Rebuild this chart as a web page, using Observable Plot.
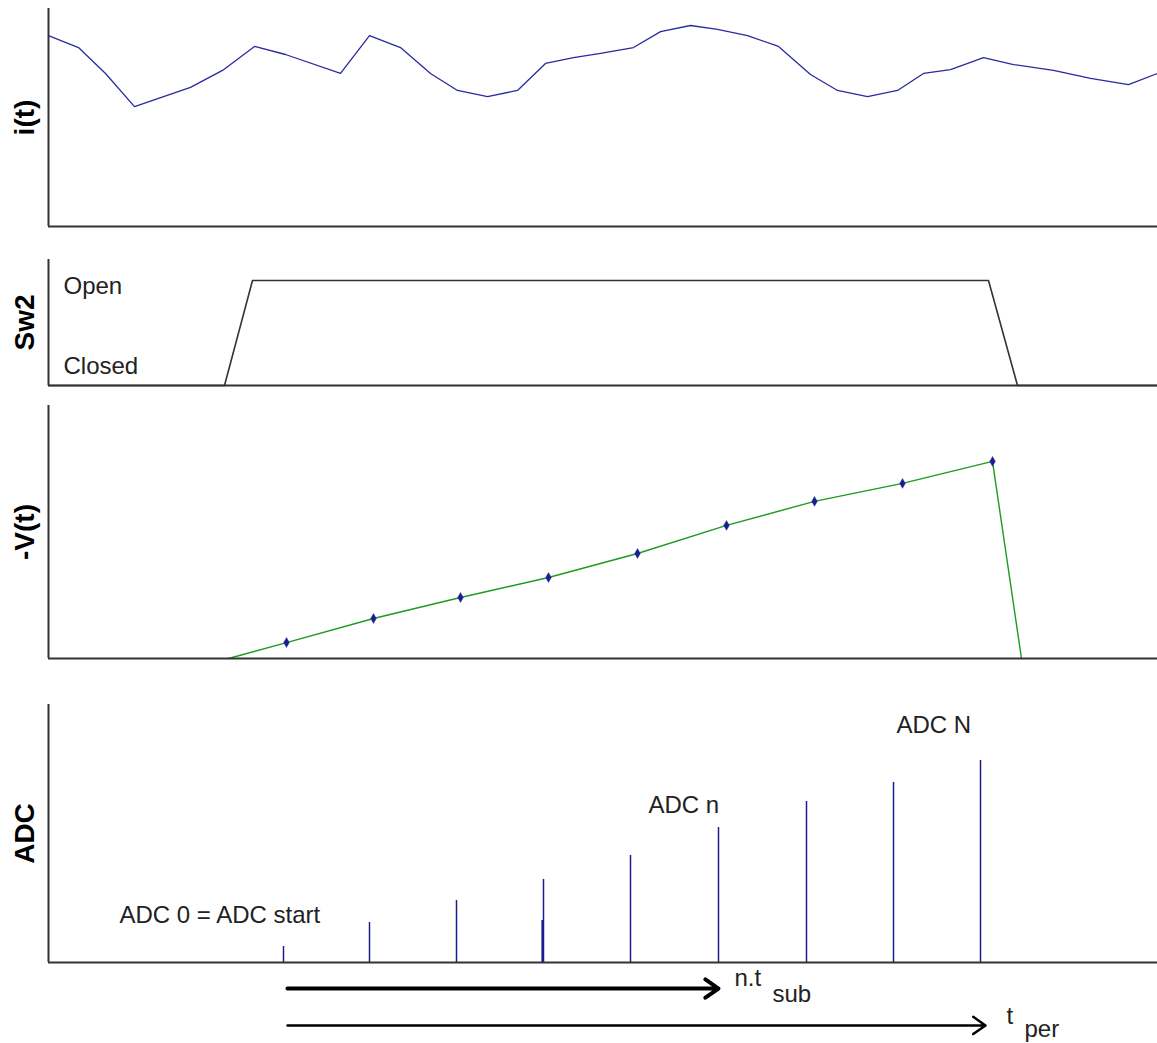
<!DOCTYPE html>
<html><head><meta charset="utf-8">
<script src="https://cdn.jsdelivr.net/npm/d3@7"></script>
<script src="https://cdn.jsdelivr.net/npm/@observablehq/plot@0.6"></script>
<style>
body{margin:0;background:#fff;}
#chart svg{display:block;}
</style>
</head><body><div id="chart"></div>
<script>
// Shared time axis (arbitrary units)
const tDomain = [0, 110.9];

// Panel 1: current i(t)
const iTime  = [0,3.0,5.7,8.6,14.2,17.4,20.6,23.7,29.2,32.1,35.2,38.2,40.9,43.9,46.9,49.7,52.5,55.2,58.5,61.2,64.2,66.9,69.9,73.0,76.2,78.9,81.9,84.9,87.5,90.2,93.5,96.5,100.5,104.2,108.0,110.9];
const iValue = [87.6,82.1,70.2,55.0,63.8,71.6,82.6,78.9,70.2,87.6,82.1,70.2,62.4,59.6,62.4,74.8,77.5,79.4,82.1,89.4,92.2,90.4,87.6,82.6,69.7,62.4,59.6,62.4,70.2,72.0,77.5,74.3,71.6,67.9,65.1,70.2];

// Panel 2: switch Sw2 state (0 = Closed, 1 = Open)
const swTime  = [0, 17.6, 20.4, 94.0, 96.9, 110.9];
const swState = [0, 0, 1, 1, 0, 0];
const swLabels = ["Open", "Closed"];
const swLabelTime = [1.5, 1.5];
const swLabelValue = [0.867, 0.114];

// Panel 3: -V(t)
const vTime  = [18.0, 23.8, 32.5, 41.2, 50.0, 58.9, 67.8, 76.6, 85.4, 94.4, 97.3];
const vValue = [0, 6.3, 15.8, 24.1, 32.0, 41.5, 52.6, 62.1, 69.2, 77.9, 0];
const vSampleTime  = [23.8, 32.5, 41.2, 50.0, 58.9, 67.8, 76.6, 85.4, 94.4];
const vSampleValue = [6.3, 15.8, 24.1, 32.0, 41.5, 52.6, 62.1, 69.2, 77.9];

// Panel 4: ADC samples
const adcTime  = [23.5, 32.1, 40.8, 49.5, 58.2, 67.0, 75.8, 84.5, 93.2];
const adcValue = [6.2, 15.5, 24.0, 32.2, 41.5, 52.3, 62.4, 69.8, 78.3];
const adcExtraTime = [49.4];
const adcExtraValue = [16.3];
const adcLabels = ["ADC 0 = ADC start", "ADC n", "ADC N"];
const adcLabelTime = [7.1, 60.0, 84.8];
const adcLabelValue = [15.5, 58.1, 88.8];

// Time arrows below the ADC panel
const arrowNames = ["n.t", "t"];
const arrowStart = [23.9, 23.9];
const arrowEnd   = [67.0, 93.7];
const arrowLevel = [-10.1, -24.4];
const arrowSubs = ["sub", "per"];
const arrowLabelTime = [68.6, 95.8];
const arrowLabelLevel = [-9.0, -24.0];
const arrowSubTime = [72.4, 97.6];
const arrowSubLevel = [-15.5, -28.7];

const FONT = "'Liberation Sans', Arial, sans-serif";
const AXIS = "#333";
const W = 1157;
const TXT = 24;

function ylabel(text) {
  return Plot.text([text], {frameAnchor: "left", dx: -23, rotate: -90, fontSize: 28, fontWeight: "bold", fill: "#000", textAnchor: "middle", lineAnchor: "middle"});
}
function axes(y0, y1) {
  return [
    Plot.ruleX([0], {y1: y0, y2: y1, stroke: AXIS, strokeWidth: 2}),
    Plot.ruleY([y0], {stroke: AXIS, strokeWidth: 2})
  ];
}
function arrow(i, sw, hl) {
  return Plot.arrow([arrowNames[i]], {x1: arrowStart[i], x2: arrowEnd[i], y1: arrowLevel[i], y2: arrowLevel[i], stroke: "#000", strokeWidth: sw, headLength: hl, headAngle: 70});
}
const base = {width: W, marginLeft: 48, marginRight: 0, style: {fontFamily: FONT, background: "#fff", overflow: "visible"}};

// Panel 1
const p1 = Plot.plot({...base, height: 240, marginTop: 8, marginBottom: 14,
  x: {domain: tDomain, axis: null}, y: {domain: [0, 100], axis: null},
  marks: [
    Plot.line(iTime, {x: (d) => d, y: (d, i) => iValue[i], stroke: "#2a2aa0", strokeWidth: 1.3}),
    ...axes(0, 100),
    ylabel("i(t)")
  ]});

// Panel 2
const p2 = Plot.plot({...base, height: 155, marginTop: 19, marginBottom: 10,
  x: {domain: tDomain, axis: null}, y: {domain: [0, 1.2], axis: null},
  marks: [
    Plot.line(swTime, {x: (d) => d, y: (d, i) => swState[i], stroke: "#333", strokeWidth: 1.6}),
    Plot.text(swLabels, {x: (d, i) => swLabelTime[i], y: (d, i) => swLabelValue[i], text: (d) => d, textAnchor: "start", lineAnchor: "bottom", fontSize: TXT, fill: "#222"}),
    ...axes(0, 1.2),
    ylabel("Sw2")
  ]});

// Panel 3
const p3 = Plot.plot({...base, height: 285, marginTop: 10, marginBottom: 22,
  x: {domain: tDomain, axis: null}, y: {domain: [0, 100], axis: null},
  marks: [
    Plot.line(vTime, {x: (d) => d, y: (d, i) => vValue[i], stroke: "#1e9a1e", strokeWidth: 1.4}),
    Plot.dot(vSampleTime, {x: (d) => d, y: (d, i) => vSampleValue[i], symbol: "diamond", r: 3, fill: "#1c1c8c", stroke: "#3a3ab0", strokeWidth: 0.5}),
    ...axes(0, 100),
    ylabel("-V(t)")
  ]});

// Panel 4
const p4 = Plot.plot({...base, height: 363, marginTop: 24, marginBottom: 81,
  x: {domain: tDomain, axis: null}, y: {domain: [0, 100], axis: null},
  marks: [
    Plot.ruleX(adcTime, {x: (d) => d, y1: 0, y2: (d, i) => adcValue[i], stroke: "#1c1c8c", strokeWidth: 1.5}),
    Plot.ruleX(adcExtraTime, {x: (d) => d, y1: 0, y2: (d, i) => adcExtraValue[i], stroke: "#1c1c8c", strokeWidth: 2.2}),
    ...axes(0, 100),
    Plot.text(adcLabels, {x: (d, i) => adcLabelTime[i], y: (d, i) => adcLabelValue[i], text: (d) => d, textAnchor: "start", lineAnchor: "bottom", fontSize: TXT, fill: "#222"}),
    arrow(0, 4, 6),
    arrow(1, 2.5, 9),
    Plot.text(arrowNames, {x: (d, i) => arrowLabelTime[i], y: (d, i) => arrowLabelLevel[i], text: (d) => d, textAnchor: "start", lineAnchor: "bottom", fontSize: TXT, fill: "#222"}),
    Plot.text(arrowSubs, {x: (d, i) => arrowSubTime[i], y: (d, i) => arrowSubLevel[i], text: (d) => d, textAnchor: "start", lineAnchor: "bottom", fontSize: TXT, fill: "#222"}),
    ylabel("ADC")
  ]});

const root = document.getElementById("chart");
[p1, p2, p3, p4].forEach((p) => root.appendChild(p));
</script>
</body></html>
